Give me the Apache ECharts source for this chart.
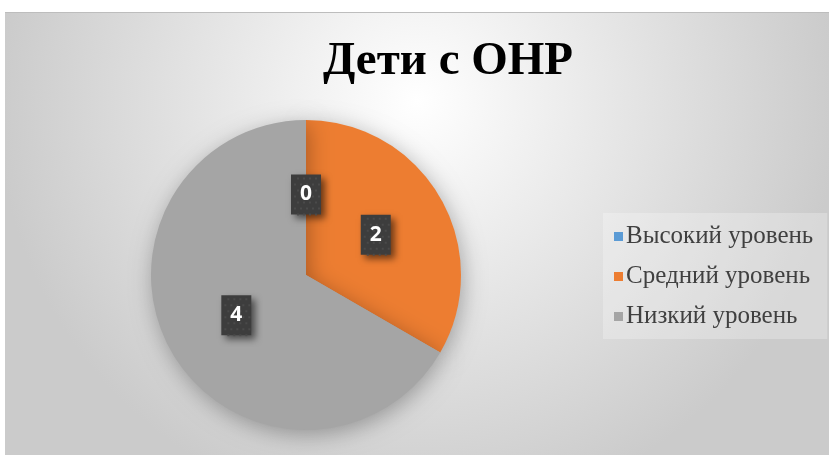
<!DOCTYPE html>
<html>
<head>
<meta charset="utf-8">
<script src="https://cdn.jsdelivr.net/npm/echarts@6/dist/echarts.min.js"></script>
<style>
    html, body { margin: 0; padding: 0; background: #fff; }
    #chart { width: 829px; height: 455px; }
</style>
</head>
<body>
<div id="chart"></div>
<script>
const titleText = 'Дети с ОНР'
const levels = ['Высокий уровень', 'Средний уровень', 'Низкий уровень']
const counts = [0, 2, 4]
const colors = ['#5B9BD5', '#ED7D31', '#A5A5A5']

// dark dotted tile with its own drop shadow, used behind the data labels
const M = 12
const makeTile = (w, h) => {
    let c = document.createElement('canvas')
    c.width = w + 2 * M
    c.height = h + 2 * M
    let ctx = c.getContext('2d')
    ctx.save()
    ctx.shadowColor = 'rgba(0,0,0,0.55)'
    ctx.shadowBlur = 7
    ctx.shadowOffsetX = 4
    ctx.shadowOffsetY = 4
    ctx.fillStyle = '#3d3d3d'
    ctx.fillRect(M, M, w, h)
    ctx.restore()
    ctx.fillStyle = '#4a4a4a'
    for (let y = 3; y < h; y += 6) {
        for (let x = 3 + ((Math.round(y / 6)) % 2) * 3; x < w - 1; x += 6) {
            ctx.fillRect(M + x, M + y, 2, 2)
        }
    }
    return c
}
const tile = makeTile(30, 40)

const chart = echarts.init(document.getElementById('chart'))
const option = {
    animation: false,
    graphic: [
        {
            type: 'rect',
            z: -10,
            shape: { x: 5, y: 12, width: 824, height: 443 },
            style: {
                fill: new echarts.graphic.RadialGradient(0.5, 0.2, 0.95, [
                    { offset: 0, color: '#ffffff' },
                    { offset: 1, color: '#cbcbcb' }
                ])
            }
        },
        {
            type: 'line',
            z: -9,
            shape: { x1: 5, y1: 12.5, x2: 829, y2: 12.5 },
            style: { stroke: '#bdbdbd', lineWidth: 1 }
        }
    ],
    title: {
        text: titleText,
        left: 443,
        textAlign: 'center',
        top: 33,
        textStyle: {
            fontFamily: 'Liberation Serif',
            fontWeight: 'bold',
            fontSize: 47,
            color: '#000'
        }
    },
    legend: {
        orient: 'vertical',
        left: 603,
        top: 213,
        backgroundColor: 'rgba(255,255,255,0.25)',
        padding: [11, 14, 10, 11],
        itemWidth: 9,
        itemHeight: 9,
        itemGap: 15,
        icon: 'rect',
        data: levels,
        textStyle: {
            fontFamily: 'Liberation Serif',
            fontSize: 25,
            color: '#404040',
            lineHeight: 25,
            padding: [0, 0, 0, -2]
        }
    },
    series: [
        {
            type: 'pie',
            center: [306, 275],
            radius: 155,
            startAngle: 90,
            clockwise: true,
            stillShowZeroSum: true,
            color: colors,
            itemStyle: {
                shadowBlur: 22,
                shadowColor: 'rgba(0,0,0,0.3)',
                shadowOffsetX: 2,
                shadowOffsetY: 5
            },
            label: {
                show: true,
                position: 'inside',
                formatter: '{c}',
                color: '#fff',
                fontFamily: 'Open Sans',
                fontWeight: 'bold',
                fontSize: 21,
                width: 30 + 2 * M,
                height: 40 + 2 * M,
                lineHeight: 40 + 2 * M,
                align: 'center',
                backgroundColor: { image: tile }
            },
            labelLine: { show: false },
            emphasis: { disabled: true },
            data: levels.map((name, i) => ({ name: name, value: counts[i] }))
        }
    ]
}
chart.setOption(option)
</script>
</body>
</html>
